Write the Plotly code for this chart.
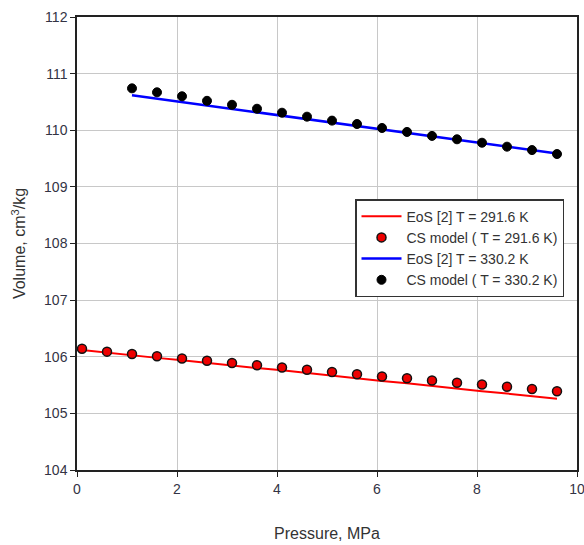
import plotly.graph_objects as go

# Pressure, MPa
p_291 = [0.1, 0.6, 1.1, 1.6, 2.1, 2.6, 3.1, 3.6, 4.1, 4.6, 5.1, 5.6, 6.1, 6.6, 7.1, 7.6, 8.1, 8.6, 9.1, 9.6]
eos_291 = [106.12, 106.07, 106.03, 105.98, 105.94, 105.89, 105.85, 105.80, 105.76, 105.71,
           105.66, 105.62, 105.57, 105.53, 105.48, 105.44, 105.39, 105.35, 105.30, 105.26]
cs_291 = [106.14, 106.09, 106.05, 106.01, 105.97, 105.93, 105.89, 105.85, 105.81, 105.77,
          105.73, 105.69, 105.65, 105.62, 105.58, 105.54, 105.51, 105.47, 105.43, 105.39]

p_330 = [1.1, 1.6, 2.1, 2.6, 3.1, 3.6, 4.1, 4.6, 5.1, 5.6, 6.1, 6.6, 7.1, 7.6, 8.1, 8.6, 9.1, 9.6]
eos_330 = [110.62, 110.56, 110.50, 110.44, 110.38, 110.32, 110.26, 110.20, 110.14, 110.08,
           110.01, 109.95, 109.89, 109.83, 109.77, 109.71, 109.65, 109.59]
cs_330 = [110.74, 110.67, 110.60, 110.52, 110.45, 110.38, 110.31, 110.24, 110.17, 110.11,
          110.04, 109.97, 109.90, 109.84, 109.78, 109.71, 109.65, 109.58]

names = ["EoS [2] T = 291.6 K", "CS model ( T = 291.6 K)", "EoS [2] T = 330.2 K", "CS model ( T = 330.2 K)"]

fig = go.Figure()
fig.add_trace(go.Scatter(x=p_291, y=eos_291, mode="lines", name=names[0],
                         line=dict(color="#ff0000", width=2)))
fig.add_trace(go.Scatter(x=p_291, y=cs_291, mode="markers", name=names[1],
                         marker=dict(color="#ee0000", size=9, line=dict(color="#111111", width=1.5))))
fig.add_trace(go.Scatter(x=p_330, y=eos_330, mode="lines", name=names[2],
                         line=dict(color="#0000ff", width=2.5)))
fig.add_trace(go.Scatter(x=p_330, y=cs_330, mode="markers", name=names[3],
                         marker=dict(color="#000000", size=9, line=dict(color="#000000", width=1))))

axis_common = dict(showline=True, linecolor="#222222", linewidth=1.5, mirror=True,
                   showgrid=True, gridcolor="#c8c8c8", gridwidth=1,
                   ticks="outside", ticklen=5, tickcolor="#222222", zeroline=False,
                   automargin=False, ticklabeloverflow="allow",
                   tickfont=dict(family="Liberation Sans, Arial", size=14, color="#333344"))

fig.update_xaxes(range=[0, 10], dtick=2, title=dict(text="Pressure, MPa", standoff=32,
                 font=dict(family="Liberation Sans, Arial", size=16, color="#333333")), **axis_common)
fig.update_yaxes(range=[104, 112], dtick=1, title=dict(text="Volume, cm<sup>3</sup>/kg", standoff=14,
                 font=dict(family="Liberation Sans, Arial", size=16, color="#333333")), **axis_common)

fig.update_layout(
    width=584, height=545,
    margin=dict(l=77, r=7, t=17, b=75),
    paper_bgcolor="white", plot_bgcolor="white",
    legend=dict(x=0.556, y=0.598, xanchor="left", yanchor="top",
                bgcolor="white", bordercolor="#333333", borderwidth=1.5,
                font=dict(family="Liberation Sans, Arial", size=14, color="#333333"),
                itemwidth=40, tracegroupgap=0),
)

fig.write_html("out.html")
